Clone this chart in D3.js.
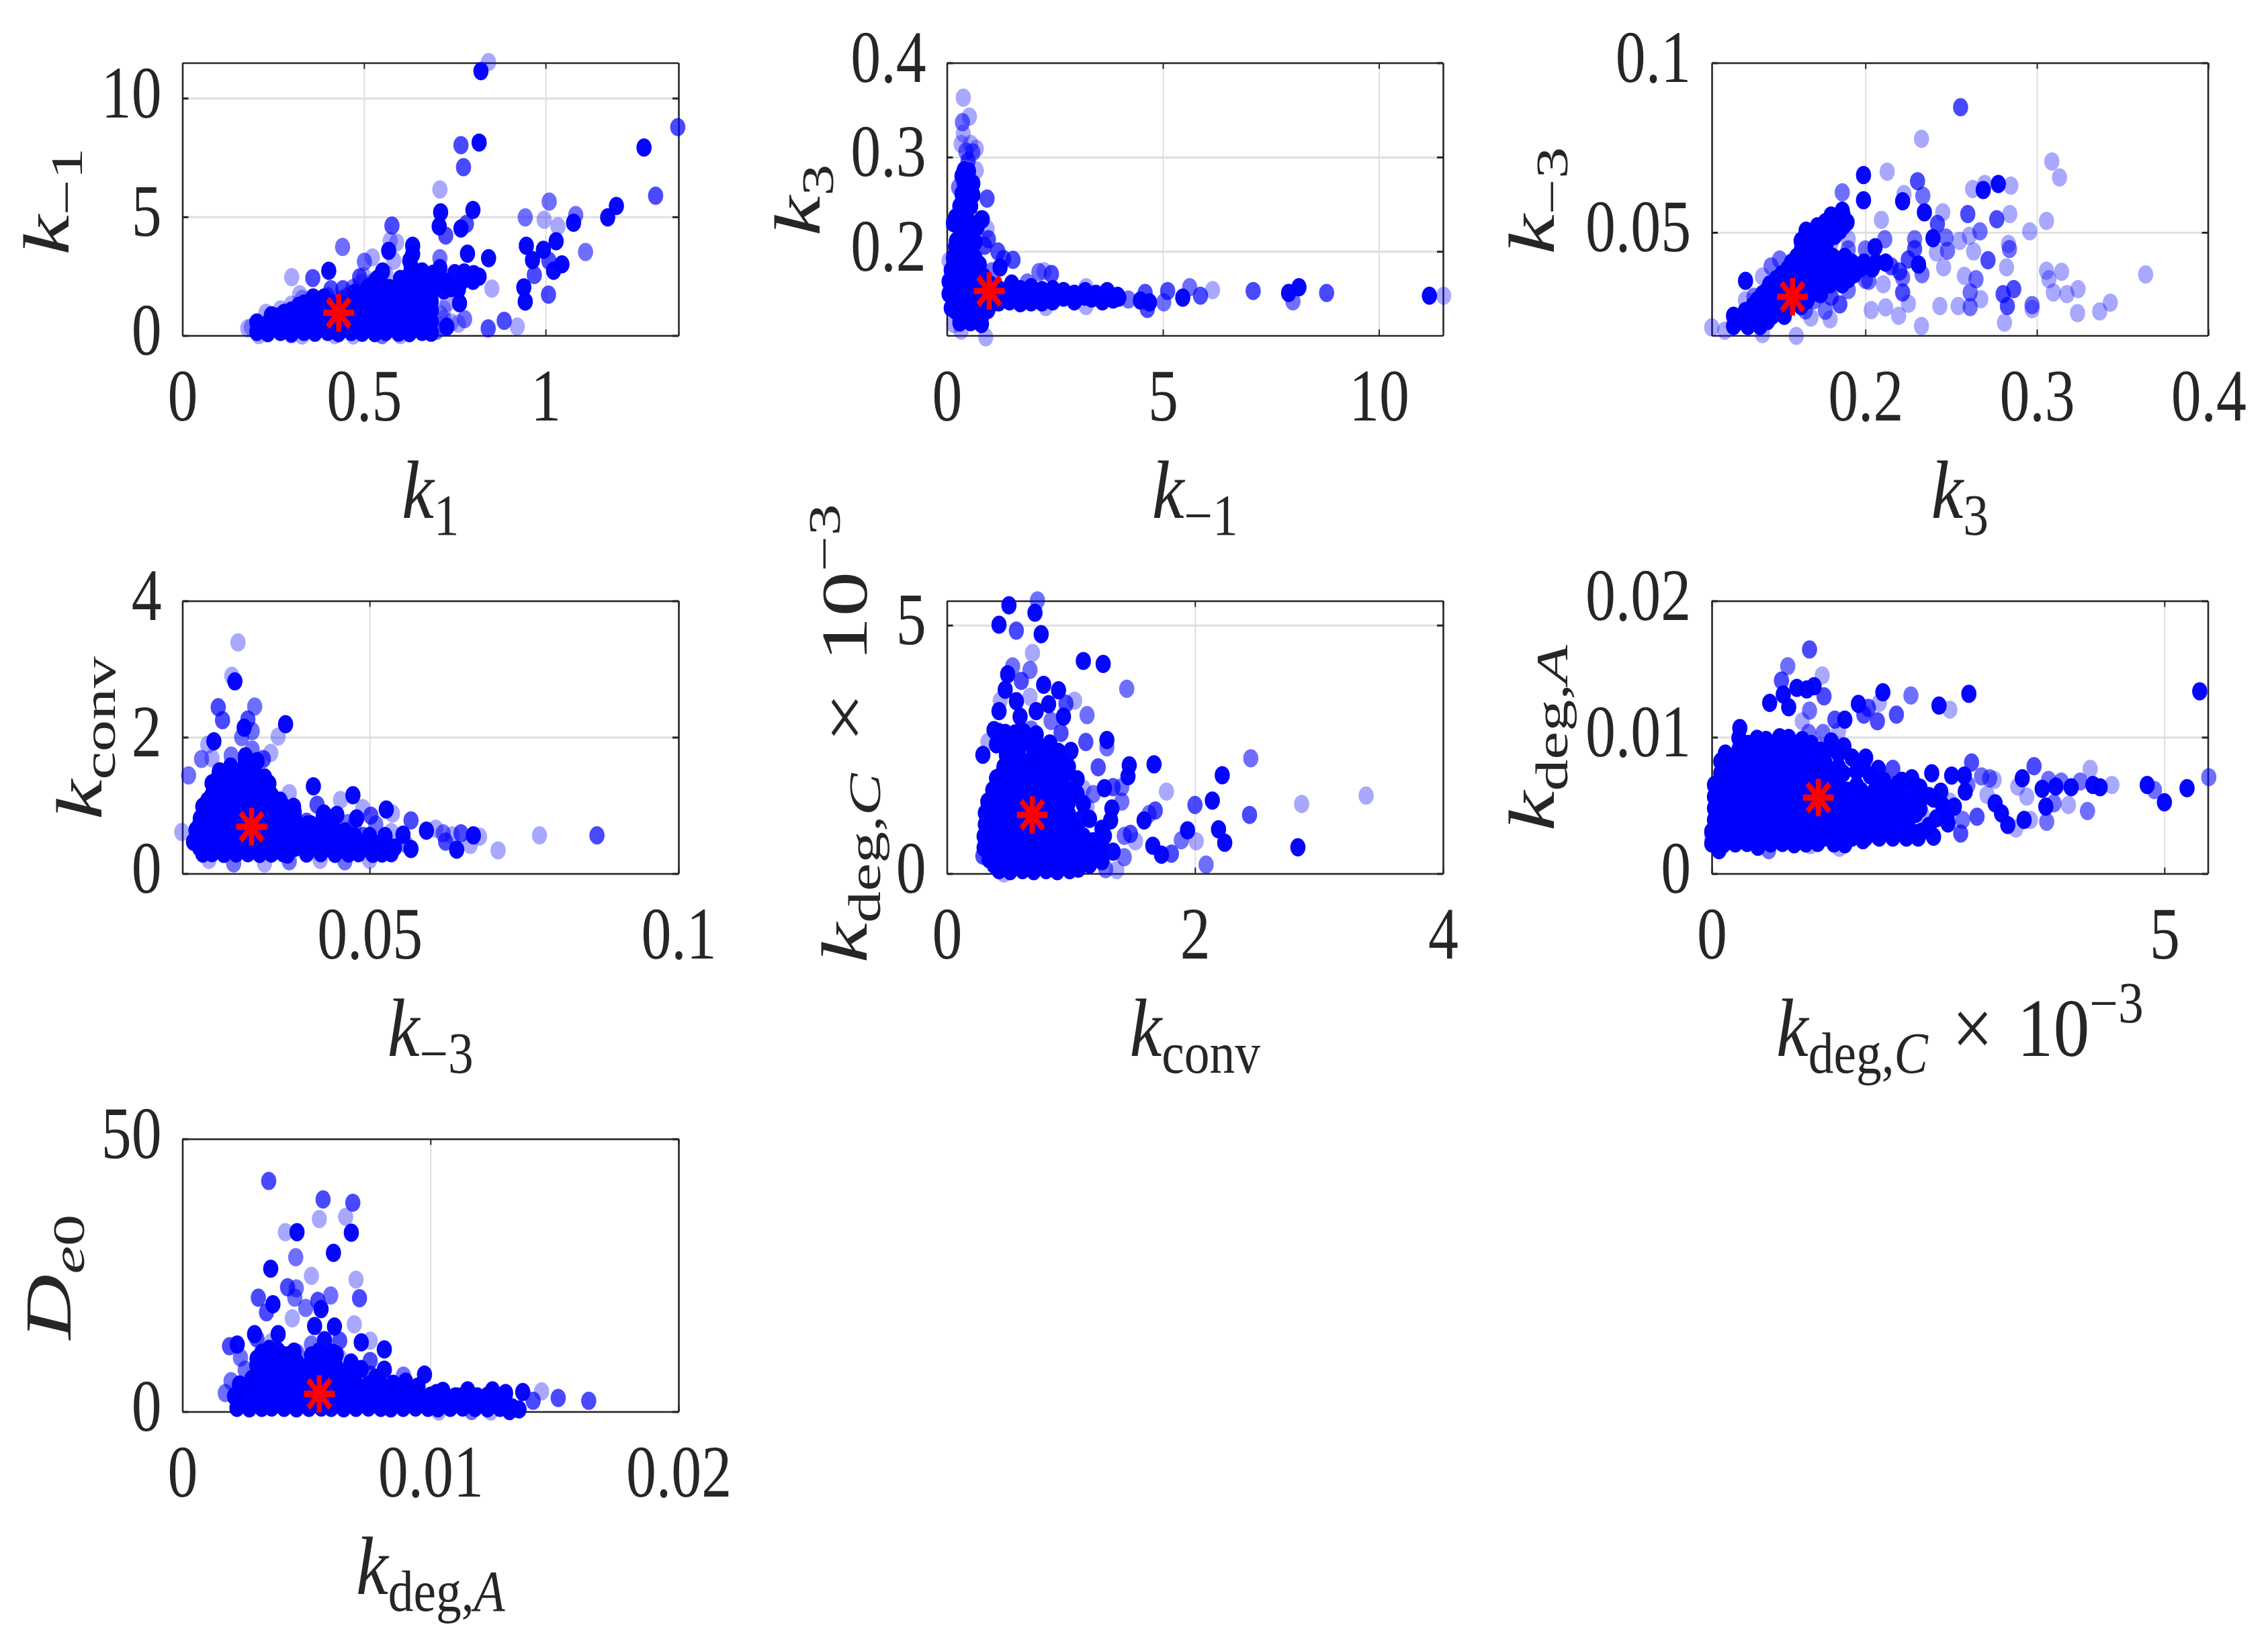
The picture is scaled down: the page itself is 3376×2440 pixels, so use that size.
<!DOCTYPE html>
<html>
<head>
<meta charset="utf-8">
<script src="https://cdn.jsdelivr.net/npm/d3@7"></script>
<style>
  html, body { margin: 0; padding: 0; background: #fff; }
  svg { display: block; }
  tspan { white-space: pre; }
</style>
</head>
<body>
<svg id="fig" width="3376" height="2440"></svg>
<script>
// Posterior samples per parameter pair. Each scatter row is [x, y, repeats];
// chains revisit a state several times, which darkens its dot.
// Core rows are the heavily revisited states: [x, y].

const p1Scatter = [[.843,11.52,1],[.822,11.14,9],[1.364,8.78,3],[1.271,7.92,9],[.817,8.13,9],[.767,8.02,3],[.774,7.09,3],[.709,6.15,1],[1.303,5.89,3],[1.010,5.64,2],[1.195,5.46,9],[1.171,4.98,9],[1.083,5.08,2],[.944,4.98,2],[.996,4.88,1],[1.077,4.75,9],[1.034,4.60,1],[.800,5.29,9],[.711,5.19,9],[.707,4.60,9],[.782,4.70,3],[.767,4.51,9],[.725,4.21,3],[.577,4.63,3],[.572,3.99,1],[.590,3.92,1],[.568,3.57,9],[.634,3.78,9],[.634,3.43,9],[.441,3.73,2],[.947,3.78,9],[1.029,3.97,9],[.994,3.61,9],[1.110,3.52,2],[.843,3.26,9],[.785,3.45,9],[.709,3.26,2],[.964,3.18,9],[1.009,3.15,3],[1.045,3.00,9],[1.022,2.73,9],[.969,2.55,3],[.501,3.11,2],[.523,3.29,1],[.582,3.15,1],[.626,3.15,9],[.551,2.70,9],[.403,2.73,9],[.359,2.42,3],[.301,2.46,1],[.709,2.84,9],[.75,2.63,9],[.776,2.66,9],[.802,2.59,9],[.817,2.48,9],[.852,1.98,1],[.940,2.03,9],[.944,1.43,9],[1.008,1.72,3],[.763,1.36,9],[.777,.69,2],[.728,.37,9],[.842,.30,3],[.886,.62,3],[.922,.38,1],[.488,2.45,3],[.536,2.38,9],[.60,2.38,9],[.665,2.52,9],[.409,1.95,3],[.442,1.95,3],[.323,1.74,1],[.72,1.9,9],[.74,2.1,3],[.73,1.4,1],[.19,.35,1],[.21,.02,1],[.30,.05,2],[.42,.02,1],[.60,.02,1],
[.33,1.55,1],[.36,1.45,1],[.40,1.65,2],[.44,1.55,2],[.455,1.65,2],[.47,2.0,2],[.49,2.2,1],[.5,2.5,1],[.525,2.25,2],[.56,2.6,1],[.62,2.0,2],[.71,.9,1],[.72,1.1,1],[.71,.4,1],[.74,.55,1],[.76,.5,1],[.70,.2,2],[.18,.3,1],[.23,.95,1],[.27,1.1,1],[.3,1.3,1],[.47,.0,1],[.55,.02,2],[.33,.0,1],[.72,.7,1]];
const p1Core = [[.205,.15],[.235,.1],[.27,.15],[.30,.1],[.335,.15],[.365,.12],[.40,.15],[.43,.1],[.465,.15],[.495,.12],[.53,.1],[.56,.15],[.595,.12],[.625,.1],[.66,.15],[.685,.12],
[.205,.55],[.24,.6],[.27,.6],[.305,.55],[.335,.6],[.37,.6],[.40,.55],[.435,.6],[.465,.6],[.50,.55],[.53,.6],[.565,.6],[.595,.55],[.63,.6],[.66,.55],[.685,.6],
[.245,.85],[.28,.95],[.30,1.05],[.33,1.1],[.365,1.05],[.395,1.1],[.43,1.05],[.46,1.1],[.495,1.05],[.525,1.1],[.56,1.05],[.59,1.1],[.625,1.05],[.655,1.1],[.685,1.05],
[.335,1.35],[.37,1.4],[.405,1.4],[.47,1.45],[.50,1.45],[.535,1.4],[.565,1.45],[.60,1.4],[.63,1.45],[.66,1.4],[.685,1.45],
[.475,1.8],[.505,1.85],[.535,1.8],[.565,1.75],[.60,1.8],[.63,1.85],[.66,1.8],[.685,1.75],
[.525,2.15],[.55,2.1],[.59,1.95],[.64,2.1],[.665,2.2],[.685,2.3]];
const p1Fill = [[.22,.35],[.25,.35],[.285,.35],[.32,.35],[.35,.35],[.385,.35],[.415,.35],[.45,.35],[.48,.35],[.515,.35],[.545,.35],[.58,.35],[.61,.35],[.645,.35],[.675,.35],
[.26,.8],[.29,.8],[.32,.8],[.35,.8],[.385,.8],[.415,.8],[.45,.8],[.48,.8],[.515,.8],[.545,.8],[.58,.8],[.61,.8],[.645,.8],[.675,.8],
[.32,1.25],[.35,1.25],[.385,1.25],[.415,1.25],[.48,1.25],[.515,1.25],[.545,1.25],[.58,1.25],[.61,1.25],[.645,1.25],[.675,1.25],
[.36,1.6],[.39,1.6],[.485,1.6],[.52,1.6],[.55,1.6],[.58,1.6],[.615,1.6],[.645,1.6],[.675,1.6],
[.51,2.0],[.545,2.0],[.655,2.0],[.675,2.0],[.675,2.45],[.65,2.45],
[.72,2.3],[.74,2.0],[.76,1.95],[.77,2.3],[.8,2.3],[.66,2.7],[.69,2.6],[.63,2.9],[.62,2.45],
[.69,1.9],[.7,2.2],[.6,2.2],[.62,2.2],[.57,2.0],[.5,1.5],[.445,1.3]];
const p1Star = [.4303, .955];

const p2Scatter = [[.38,.363,1],[.52,.343,1],[.36,.337,2],[.38,.325,1],[.33,.314,1],[.55,.314,1],[.68,.309,1],[.44,.306,2],[.6,.305,2],[.49,.296,3],[.68,.286,1],[.93,.256,3],[.27,.268,2],[.82,.234,9],[.93,.224,1],[.96,.213,3],[.87,.206,3],[1.18,.2,3],[1.31,.192,3],[1.53,.191,3],[1.23,.183,9],[1.04,.179,2],[2.13,.178,2],[2.25,.179,1],[2.42,.176,3],[1.86,.167,2],[3.22,.162,1],[4.59,.156,3],[5.11,.158,3],[5.62,.162,2],[5.46,.151,9],[5.87,.153,3],[6.15,.159,1],[7.09,.158,3],[7.91,.156,9],[8.15,.162,9],[8.01,.147,2],[8.79,.156,3],[11.17,.153,9],[11.5,.153,1],[.9,.109,1],[.33,.116,1],[.16,.123,1],[.05,.19,1],[4.48,.148,9],[4.69,.146,9],[5.02,.146,2],[4.2,.149,2],[3.98,.151,9],[3.71,.158,9],[3.22,.142,1],[4.64,.139,3],[2.29,.141,1]];
const p2Core = [[.3,.1246],[.55,.125],[.8,.123],[.2,.137],[.45,.137],[.7,.136],[.95,.138],[.15,.149],[.4,.149],[.65,.15],[.9,.148],[.12,.162],[.35,.162],[.6,.161],[.85,.163],[.15,.174],[.4,.174],[.65,.175],[.85,.173],[.25,.187],[.5,.187],[.75,.186],[.3,.199],[.55,.2],[.22,.211],[.5,.211],[.3,.224],[.6,.224],[.7,.226],[.2,.236],[.45,.236],[.8,.234],[.3,.248],[.55,.248],[.35,.261],[.6,.26],[.4,.273],[.6,.272],[.4,.286],[.5,.285],
[1.2,.146],[1.45,.147],[1.7,.145],[1.95,.146],[2.2,.146],[2.45,.147],[1.2,.16],[1.45,.161],[1.7,.16],[1.95,.162],[2.2,.159],[2.45,.16],[2.7,.151],[2.95,.155],[3.2,.152],[3.45,.155],[3.7,.152],[3.95,.153],[2.7,.158],[2.95,.147],[3.2,.158],[1.0,.153]];
const p2Fill = [[.1,.14],[.35,.13],[.55,.13],[.8,.13],[.05,.155],[.25,.155],[.5,.155],[.75,.155],[1.0,.165],[.05,.168],[.25,.168],[.5,.168],[.75,.168],[1.05,.145],[.1,.18],[.3,.18],[.55,.18],[.15,.193],[.4,.193],[.65,.193],[.2,.205],[.4,.205],[.65,.21],[.4,.218],[.15,.23],[.35,.23],[.55,.23],[.3,.242],[.45,.255],[.5,.268],[.45,.28],[.35,.28],
[1.1,.153],[1.3,.153],[1.6,.153],[1.85,.153],[2.1,.153],[2.3,.153],[2.55,.153],[3.0,.15],[3.35,.15],[3.6,.147],[3.85,.149],[1.5,.166]];
const p2Star = [.98, .158];

const p3Scatter = [[.2555,.0869,3],[.2327,.0776,1],[.3087,.0709,1],[.3132,.0662,1],[.1989,.0669,9],[.2127,.0679,1],[.2304,.0651,3],[.2775,.0643,9],[.2848,.0638,1],[.2687,.0625,9],[.2625,.0628,1],[.2696,.0643,1],[.1865,.0618,2],[.1989,.0595,9],[.2217,.0592,9],[.2225,.0613,1],[.2335,.0608,2],[.2344,.0559,9],[.2451,.0559,1],[.2597,.0554,3],[.2766,.0539,3],[.2842,.0554,1],[.2093,.0537,1],[.3056,.0534,1],[.2958,.0503,1],[.242,.0525,3],[.2668,.0503,2],[.2606,.049,1],[.247,.0485,2],[.2394,.0483,9],[.2287,.048,2],[.2113,.048,2],[.2549,.0475,1],[.2834,.0466,1],[.284,.0451,2],[.2631,.0444,1],[.2056,.0456,9],[.2287,.0451,3],[.2414,.0441,1],[.2479,.0446,2],[.2715,.0418,3],[.2823,.0397,1],[.231,.0405,9],[.2456,.0397,1],[.2577,.0372,1],[.2645,.0362,2],[.3056,.0387,1],[.3144,.0384,1],[.307,.0362,1],[.3634,.0376,1],[.2217,.0367,2],[.2104,.0347,1],[.233,.0377,2],[.3096,.0323,1],[.3175,.0318,1],[.324,.0333,1],[.3428,.0293,1],[.3366,.0267,1],[.3237,.0262,1],[.2865,.0333,3],[.2803,.0318,3],[.2828,.0283,3],[.2972,.0286,2],[.2972,.0274,1],[.2611,.0323,2],[.2673,.0303,1],[.2434,.0283,1],[.2541,.0283,1],[.2611,.028,2],[.2811,.0234,1],[.2327,.0224,1],[.2194,.0254,1],[.2251,.029,1],[.2217,.0323,3],[.2034,.0271,1],[.2118,.0279,1],[.1301,.0357,9],[.1597,.0195,1],[.1104,.022,1],[.118,.021,1],[.1851,.0288,3],[.1766,.0269,2],[.1682,.0249,1],[.14,.02,1],[.1794,.0244,1],[.202,.0357,2],
[.145,.04,2],[.14,.037,1],[.135,.031,2],[.13,.03,1],[.15,.042,2],[.17,.03,2],[.18,.031,3],[.165,.027,2],[.19,.033,2],[.195,.04,3],[.2,.036,2],[.215,.04,3],[.22,.0385,3],[.225,.042,3],[.19,.045,2],[.2,.045,2],[.18,.047,1],[.19,.048,1]];
const p3Core = [[.1231,.0224],[.1315,.0224],[.1386,.0224],[.1231,.0254],[.1315,.0254],[.1386,.0254],[.1456,.0254],[.1527,.0254],[.1344,.0283],[.1414,.0283],[.1485,.0283],[.1555,.0283],[.1625,.0283],[.14,.0318],[.147,.0318],[.1541,.0318],[.1611,.0318],[.1682,.0318],[.1738,.0318],[.1442,.0347],[.1513,.0347],[.1583,.0347],[.1654,.0347],[.1724,.0347],[.1794,.0347],[.1865,.0347],[.1513,.0377],[.1583,.0377],[.1654,.0377],[.1724,.0377],[.1794,.0377],[.1865,.0377],[.1935,.0377],[.1569,.0411],[.1639,.0411],[.171,.0411],[.178,.0411],[.1851,.0411],[.1921,.0411],[.1992,.0411],[.2062,.0411],[.2118,.0411],[.1625,.0446],[.1696,.0446],[.1766,.0446],[.1625,.0475],[.1696,.0475],[.1766,.0475],[.1654,.0505],[.1724,.0505],[.1794,.0505],[.1851,.0505],[.1766,.053],[.1851,.053],[.1893,.053],[.1865,.0564]];
const p3Fill = [[.127,.0239],[.135,.0239],[.143,.0239],[.13,.0268],[.138,.0268],[.145,.0268],[.152,.0268],[.137,.03],[.144,.03],[.152,.03],[.159,.03],[.166,.03],[.143,.0332],[.15,.0332],[.157,.0332],[.164,.0332],[.171,.0332],[.148,.0362],[.155,.0362],[.162,.0362],[.169,.0362],[.176,.0362],[.183,.0362],[.19,.0362],[.155,.0394],[.162,.0394],[.169,.0394],[.176,.0394],[.183,.0394],[.19,.0394],[.197,.0394],[.204,.0394],[.16,.0428],[.167,.0428],[.174,.0428],[.181,.0428],[.188,.0428],[.163,.046],[.17,.046],[.177,.046],[.168,.049],[.175,.049],[.182,.049],[.172,.0518],[.179,.0518],[.187,.0518],[.18,.055],[.187,.055]];
const p3Star = [.1575, .031];

const p4Scatter = [[.0287,3.39,1],[.0282,2.82,9],[.0277,2.90,1],[.0255,2.44,3],[.0314,2.45,2],[.0262,2.25,3],[.0364,2.19,9],[.0303,2.26,3],[.0297,2.14,9],[.031,2.09,2],[.0293,2.0,2],[.0352,2.01,1],[.0248,1.94,9],[.0238,1.89,1],[.031,1.82,2],[.034,1.77,1],[.0228,1.68,2],[.0276,1.73,2],[.0299,1.72,9],[.0245,1.69,1],[.0328,1.68,3],[.0207,1.44,2],[.0257,1.50,9],[.0409,1.28,9],[.037,1.18,1],[.0473,1.15,9],[.0453,1.08,1],[.0415,1.01,3],[.0527,.94,9],[.0537,.88,1],[.0489,.96,1],[.0377,.98,9],[.0447,.86,9],[.0426,.88,9],[.0479,.81,9],[.0502,.85,3],[.0465,.74,2],[.0567,.78,3],[.0398,.76,3],[.0592,.63,9],[.0607,.66,1],[.0554,.57,9],[.0619,.59,2],[.0648,.59,3],[.0668,.56,9],[.0678,.54,1],[.0634,.56,1],[.0775,.56,1],[.0868,.56,3],[.0641,.35,9],[.0663,.42,1],[.0708,.34,1],[.0567,.36,9],[.0535,.61,1],[.0196,.61,1],[.0623,.47,3],[.0558,.44,2],
[.024,.2,1],[.028,.15,2],[.033,.15,1],[.037,.18,2],[.042,.2,1],[.046,.18,2],[.05,.2,1],[.0445,.6,3],[.0475,.7,2],[.049,.55,3],[.051,.72,2]];
const p4Core = [[.023,.294],[.0245,.3],[.0264,.29],[.0284,.294],[.0303,.3],[.0322,.29],[.0341,.294],[.036,.3],[.0367,.28],[.0398,.294],[.0421,.3],[.0444,.29],[.0466,.294],[.0482,.3],[.0505,.29],[.052,.294],[.0535,.3],
[.0215,.466],[.0234,.47],[.0253,.46],[.0272,.466],[.0291,.47],[.031,.46],[.0329,.466],[.0348,.47],[.0367,.46],[.0375,.47],[.039,.466],[.0413,.47],[.0436,.46],[.0459,.466],[.0482,.47],[.0505,.46],[.052,.466],
[.0219,.638],[.0238,.64],[.0257,.63],[.0276,.638],[.0295,.64],[.0314,.63],[.0333,.638],[.0352,.64],[.0371,.63],[.0375,.64],[.0394,.638],[.0413,.64],[.0436,.63],
[.0226,.81],[.0245,.82],[.0264,.8],[.0283,.81],[.0302,.82],[.0321,.8],[.034,.81],[.0359,.82],[.0379,.8],
[.023,.982],[.0249,.99],[.0268,.97],[.0287,.982],[.0306,.99],[.0325,.97],[.0344,.982],[.036,.99],
[.0245,1.153],[.0264,1.16],[.0284,1.15],[.0303,1.153],[.0325,1.16],[.0341,1.15],
[.0245,1.325],[.0264,1.33],[.0284,1.32],[.0303,1.325],[.0325,1.33],[.0337,1.32],
[.0257,1.497],[.0284,1.5],[.0314,1.49],[.0299,1.644],[.0318,1.65]];
const p4Fill = [[.0225,.38],[.024,.38],[.026,.38],[.028,.38],[.03,.38],[.032,.38],[.034,.38],[.036,.38],[.038,.38],[.0405,.38],[.043,.38],[.045,.38],[.047,.38],[.049,.38],
[.0225,.55],[.0245,.55],[.0265,.55],[.0285,.55],[.0305,.55],[.0325,.55],[.0345,.55],[.0365,.55],[.0395,.55],[.0425,.55],[.045,.55],[.0475,.55],[.05,.55],[.0525,.55],
[.0225,.72],[.0245,.72],[.0265,.72],[.0285,.72],[.0305,.72],[.0325,.72],[.0345,.72],[.0365,.72],[.038,.72],[.04,.72],[.0425,.72],[.044,.72],
[.0238,.9],[.0258,.9],[.0278,.9],[.0298,.9],[.0318,.9],[.0338,.9],[.0358,.9],[.0378,.9],
[.0238,1.07],[.0258,1.07],[.0278,1.07],[.0298,1.07],[.0318,1.07],[.0338,1.07],[.0355,1.07],
[.0255,1.24],[.0275,1.24],[.0295,1.24],[.0315,1.24],[.0335,1.24],
[.0255,1.41],[.0275,1.41],[.0295,1.41],[.0315,1.41],[.033,1.41],[.0275,1.57],[.0305,1.57],
[.0405,.72],[.0425,.85],[.046,.62],[.05,.45],[.054,.38]];
const p4Star = [.0309, .687];

const p5Scatter = [[.73,5.50,2],[.5,5.40,9],[.71,5.25,9],[.42,5.01,9],[.56,4.89,3],[.76,4.82,9],[.69,4.44,1],[1.10,4.28,9],[1.26,4.22,9],[.53,4.17,2],[.67,4.10,2],[.49,4.01,9],[.6,3.88,3],[.78,3.80,9],[1.45,3.72,2],[.47,3.70,9],[.9,3.69,9],[.67,3.56,1],[.56,3.47,9],[1.03,3.48,1],[.96,3.42,3],[.82,3.41,9],[.43,3.48,1],[.42,3.27,9],[.72,3.27,9],[1.13,3.19,2],[.59,3.16,9],[.94,3.16,9],[.84,3.07,2],[.38,2.89,9],[.92,2.83,3],[.68,2.90,2],[.33,2.65,1],[1.29,2.69,9],[1.29,2.54,2],[1.12,2.65,3],[.29,2.39,9],[.84,2.54,9],[1.0,2.47,9],[2.45,2.32,2],[1.67,2.20,9],[1.47,2.18,9],[1.22,2.14,3],[2.22,1.98,9],[1.46,1.96,9],[1.77,1.65,1],[1.27,1.72,9],[1.34,1.74,3],[1.41,1.74,2],[1.1,1.71,1],[1.18,1.60,2],[3.38,1.57,1],[2.86,1.40,1],[1.41,1.45,2],[2.14,1.47,9],[2.0,1.38,3],[1.33,1.31,9],[1.13,1.34,1],[1.68,1.27,3],[1.63,1.20,2],[1.59,1.07,9],[2.44,1.18,3],[1.32,1.07,9],[1.08,1.09,9],[1.94,.87,9],[2.19,.89,9],[1.48,.8,3],[1.43,.76,2],[1.27,.76,9],[1.52,.65,1],[1.89,.67,2],[2.01,.65,1],[2.24,.62,9],[1.66,.56,9],[2.83,.53,9],[1.81,.40,3],[1.73,.38,9],[1.34,.44,9],[1.43,.33,2],[2.09,.18,2],[1.28,.09,2],[1.37,.07,1],[1.18,.65,9],[.46,.0,1],[.29,.36,3]];
const p5Core = [[.42,.07],[.51,.05],[.61,.07],[.70,.05],[.80,.07],[.89,.05],[.99,.07],[1.06,.1],
[.34,.29],[.44,.27],[.53,.29],[.63,.3],[.72,.27],[.82,.29],[.91,.3],[1.0,.27],[1.1,.29],[1.19,.3],
[.3,.52],[.4,.5],[.49,.52],[.59,.53],[.68,.5],[.78,.52],[.87,.53],[.97,.5],[1.07,.52],[1.17,.53],
[.3,.75],[.4,.74],[.49,.75],[.59,.76],[.68,.74],[.78,.75],[.87,.76],[.97,.74],[1.1,.75],
[.31,.99],[.4,.97],[.5,.99],[.6,1.0],[.7,.97],[.8,.99],[.9,1.0],[1.0,.97],
[.31,1.22],[.4,1.2],[.5,1.22],[.6,1.23],[.7,1.2],[.8,1.22],[.9,1.23],[.98,1.2],
[.33,1.45],[.43,1.43],[.53,1.45],[.63,1.46],[.73,1.43],[.83,1.45],[.93,1.46],[.98,1.43],
[.37,1.68],[.47,1.67],[.57,1.68],[.67,1.69],[.77,1.67],[.87,1.68],[.96,1.69],
[.4,1.92],[.5,1.9],[.6,1.92],[.7,1.93],[.8,1.9],[.93,1.92],
[.46,2.15],[.55,2.13],[.65,2.15],[.78,2.16],[.87,2.13],[.98,2.15],
[.48,2.38],[.58,2.36],[.8,2.38],[.85,2.39],[.48,2.61],[.59,2.6],[.68,2.61],[.83,2.62],[.47,2.83],[.55,2.82],[.62,2.84]];
const p5Fill = [[.38,.18],[.47,.18],[.56,.18],[.66,.18],[.75,.18],[.85,.18],[.94,.18],[1.05,.18],[1.15,.18],
[.35,.4],[.44,.4],[.54,.4],[.63,.4],[.73,.4],[.82,.4],[.92,.4],[1.02,.4],[1.12,.4],
[.35,.63],[.44,.63],[.54,.63],[.63,.63],[.73,.63],[.82,.63],[.92,.63],[1.02,.63],[1.12,.63],
[.35,.87],[.44,.87],[.55,.87],[.65,.87],[.75,.87],[.85,.87],[.95,.87],[1.05,.87],
[.35,1.1],[.45,1.1],[.55,1.1],[.65,1.1],[.75,1.1],[.85,1.1],[.95,1.1],
[.36,1.33],[.46,1.33],[.56,1.33],[.66,1.33],[.76,1.33],[.86,1.33],[.96,1.33],
[.4,1.56],[.5,1.56],[.6,1.56],[.7,1.56],[.8,1.56],[.9,1.56],
[.43,1.8],[.53,1.8],[.63,1.8],[.73,1.8],[.83,1.8],[.93,1.8],
[.45,2.03],[.55,2.03],[.65,2.03],[.75,2.03],[.85,2.03],[.95,2.03],
[.5,2.27],[.6,2.27],[.72,2.27],[.82,2.27],[.92,2.27],[.5,2.5],[.58,2.5],[.85,2.5],[.5,2.72],[.58,2.72],
[.4,2.6],[.42,2.85],[.7,2.4],[.75,2.55],[.72,2.8],[.9,2.45],[1.05,1.9],[1.05,1.6],[1.1,1.4],[1.15,1.1],[1.25,.9],[1.15,.4],[1.25,.55],[1.25,.25]];
const p5Star = [.688, 1.183];

const p6Scatter = [[1.08,.01644,3],[.84,.01521,2],[1.22,.01453,1],[.77,.01416,3],[.94,.01362,9],[1.13,.01374,9],[1.05,.0135,9],[1.24,.013,3],[.79,.01313,9],[1.89,.0133,9],[2.2,.01306,2],[2.84,.01318,9],[5.39,.01337,9],[.64,.01252,9],[.85,.0122,9],[1.85,.01252,1],[1.62,.01244,9],[1.73,.01215,3],[1.68,.01166,3],[2.51,.01232,9],[2.63,.01202,1],[2.04,.01166,3],[1.83,.01117,3],[1.08,.01195,2],[1.47,.01129,9],[1.36,.01129,3],[1.0,.01117,1],[1.07,.01031,2],[1.23,.01031,2],[.31,.01067,9],[1.4,.01043,1],[1.32,.00969,9],[1.46,.00933,9],[1.68,.00822,9],[2.0,.00768,3],[1.84,.00768,9],[2.21,.00699,9],[2.43,.00736,9],[2.65,.00719,9],[2.79,.00719,9],[2.87,.00815,3],[2.98,.00712,2],[3.07,.00699,2],[3.12,.00687,1],[3.43,.00699,9],[3.56,.00788,3],[4.18,.00768,1],[3.72,.00687,2],[3.86,.00675,2],[3.8,.00638,9],[3.65,.00621,9],[3.97,.00633,9],[4.07,.00675,2],[4.21,.0065,9],[4.29,.00633,9],[4.42,.0065,1],[4.81,.0065,9],[4.89,.00613,2],[5.0,.00523,9],[5.25,.00626,9],[5.49,.00707,2],[3.94,.00503,1],[4.15,.00459,2],[3.69,.00491,9],[3.78,.00515,2],[3.7,.0038,2],[3.38,.00638,1],[3.48,.00564,1],[3.45,.00393,9],[3.52,.00393,1],[3.36,.00331,1],[3.27,.00356,9],[3.2,.00442,9],[3.13,.00515,9],[3.04,.00577,1],[2.8,.00601,9],[2.83,.0065,2],[2.53,.00601,9],[2.93,.00417,3],[2.77,.00393,2],[2.61,.00368,9],[2.48,.00405,9],[2.68,.00491,9],[2.75,.00294,3],[2.45,.0027,9],[2.32,.00307,9],[2.32,.00442,1],[2.63,.00528,1],[1.67,.00245,9],[1.84,.0027,3],[2.05,.00307,3],[1.49,.00245,9],[1.41,.00189,1],[1.09,.00209,1],[.63,.00172,2],[.08,.00172,9],[.0,.0027,1],[.51,.00196,9]];
const p6Core = [[.0,.00221],[.13,.00215],[.26,.00221],[.39,.00225],[.52,.00215],[.65,.00221],[.78,.00225],[.91,.00215],[1.04,.00221],[1.17,.00225],[1.35,.00221],[1.47,.00215],
[.0,.00307],[.13,.00312],[.26,.00302],[.39,.00307],[.52,.00312],[.65,.00302],[.78,.00307],[.91,.00312],[1.04,.00302],[1.17,.00307],[1.3,.00312],[1.43,.00302],[1.56,.00307],[1.75,.00312],[1.9,.00302],[2.0,.00307],[2.2,.00312],[2.3,.00302],
[.03,.00393],[.16,.00388],[.29,.00398],[.42,.00393],[.55,.00388],[.68,.00398],[.81,.00393],[.94,.00388],[1.07,.00398],[1.2,.00393],[1.33,.00388],[1.46,.00398],[1.6,.00393],[1.8,.00388],[1.95,.00398],[2.1,.00393],
[.03,.00479],[.16,.00484],[.29,.00474],[.42,.00479],[.55,.00484],[.68,.00474],[.81,.00479],[.94,.00484],[1.07,.00474],[1.2,.00479],[1.33,.00484],[1.46,.00474],[1.6,.00479],[1.7,.00484],[1.85,.00474],[2.0,.00479],[2.15,.00484],[2.3,.00474],
[.03,.00564],[.16,.00559],[.29,.00569],[.42,.00564],[.55,.00559],[.68,.00569],[.81,.00564],[.94,.00559],[1.07,.00569],[1.2,.00564],[1.33,.00559],[1.46,.00569],[1.65,.00564],[1.8,.00559],[1.95,.00569],[2.1,.00564],[2.25,.00559],[2.4,.00569],
[.03,.0065],[.16,.00655],[.29,.00645],[.42,.0065],[.55,.00655],[.68,.00645],[.81,.0065],[.94,.00655],[1.07,.00645],[1.2,.0065],[1.4,.00655],[1.6,.00645],[1.85,.0065],[2.05,.00655],[2.25,.00645],
[.1,.00736],[.25,.0073],[.4,.00741],[.55,.00736],[.7,.0073],[.85,.00741],[1.0,.00736],[1.15,.0073],[1.3,.00741],[1.45,.00736],
[.1,.00822],[.25,.00816],[.4,.00828],[.6,.00822],[.75,.00816],[.9,.00828],[1.1,.00822],[1.25,.00816],
[.3,.00908],[.55,.00902],[.7,.00914],[.95,.00908],[1.2,.00902],[.3,.00994],[.5,.00988],[.75,.01],[.85,.00994]];
const p6Fill = [[.07,.00264],[.2,.00264],[.33,.00264],[.46,.00264],[.59,.00264],[.72,.00264],[.85,.00264],[.98,.00264],[1.11,.00264],[1.24,.00264],[1.41,.00264],[1.55,.00264],[1.7,.00264],[1.85,.00264],[2.0,.00264],[2.15,.00264],[2.28,.00264],
[.07,.0035],[.2,.0035],[.33,.0035],[.46,.0035],[.59,.0035],[.72,.0035],[.85,.0035],[.98,.0035],[1.11,.0035],[1.24,.0035],[1.37,.0035],[1.5,.0035],[1.7,.0035],[1.85,.0035],[2.0,.0035],[2.15,.0035],
[.07,.00436],[.2,.00436],[.33,.00436],[.46,.00436],[.59,.00436],[.72,.00436],[.85,.00436],[.98,.00436],[1.11,.00436],[1.24,.00436],[1.37,.00436],[1.5,.00436],[1.65,.00436],[1.8,.00436],[1.95,.00436],[2.1,.00436],[2.25,.00436],
[.07,.0052],[.2,.0052],[.33,.0052],[.46,.0052],[.59,.0052],[.72,.0052],[.85,.0052],[.98,.0052],[1.11,.0052],[1.24,.0052],[1.37,.0052],[1.5,.0052],[1.65,.0052],[1.8,.0052],[1.95,.0052],[2.1,.0052],[2.25,.0052],
[.07,.00607],[.2,.00607],[.33,.00607],[.46,.00607],[.59,.00607],[.72,.00607],[.85,.00607],[.98,.00607],[1.11,.00607],[1.24,.00607],[1.37,.00607],[1.5,.00607],[1.65,.00607],[1.8,.00607],[1.95,.00607],[2.1,.00607],
[.1,.00693],[.23,.00693],[.36,.00693],[.49,.00693],[.62,.00693],[.75,.00693],[.88,.00693],[1.01,.00693],[1.14,.00693],[1.27,.00693],[1.4,.00693],
[.17,.0078],[.33,.0078],[.47,.0078],[.62,.0078],[.78,.0078],[.93,.0078],[1.08,.0078],[1.22,.0078],[1.4,.0078],
[.33,.00865],[.48,.00865],[.65,.00865],[.82,.00865],[1.0,.00865],[1.2,.00865],[.4,.0095],[.62,.0095],[.85,.0095],[1.1,.0095],
[1.6,.0075],[1.75,.0072],[1.55,.0085],[1.4,.0088],[1.9,.0068],[2.1,.0068],[2.3,.0063],[2.45,.0055],[2.55,.005],[2.6,.0042],[2.4,.0035],[1.3,.0092],[.15,.0088],[.6,.0098],[1.0,.0098],[1.7,.0085]];
const p6Star = [1.178, .00557];

const p7Scatter = [[.00348,42.3,3],[.00567,38.9,3],[.00687,38.3,3],[.00552,35.3,1],[.00658,35.7,1],[.00415,32.9,1],[.00462,32.9,9],[.00681,32.8,9],[.00609,29.1,9],[.00457,28.3,2],[.00356,26.2,9],[.0052,24.9,1],[.007,24.2,1],[.00424,22.8,3],[.00459,22.6,2],[.00306,20.9,3],[.00453,20.9,2],[.00365,19.7,9],[.00598,21.3,2],[.00714,20.8,3],[.00546,20.3,3],[.00339,18.2,3],[.00497,19.0,2],[.00559,18.8,9],[.00443,17.1,1],[.00533,15.7,9],[.00693,16.0,1],[.00613,15.6,9],[.00291,14.2,9],[.00386,14.2,9],[.003,13.4,3],[.00358,12.7,1],[.00573,13.1,9],[.00634,13.0,3],[.0052,12.3,2],[.00757,13.0,1],[.00721,12.7,9],[.00221,12.3,9],[.0019,12.0,3],[.00814,11.4,9],[.00605,10.8,9],[.00386,11.1,9],[.00462,10.8,2],[.00234,9.9,2],[.00301,9.7,9],[.00757,9.3,3],[.00634,9.9,1],[.00691,7.7,1],[.00814,7.7,9],[.00891,6.6,2],[.00976,6.8,9],[.00253,7.7,2],[.00757,6.8,3],[.00681,5.9,9],[.00919,4.1,3],[.01024,3.4,9],[.011,2.8,9],[.01189,2.8,9],[.01303,3.4,9],[.01372,3.6,9],[.01448,3.7,1],[.01414,2.0,3],[.01515,2.5,3],[.01638,2.0,3],[.01319,.1,9],[.01357,.4,9],[.01033,.0,1],[.01166,.1,2],[.01243,.0,1],[.00173,3.4,2],[.00196,5.6,2]];
const p7Core = [[.0022,.68],[.0027,.6],[.0032,.68],[.0036,.75],[.0041,.68],[.0046,.6],[.0051,.68],[.0056,.75],[.006,.68],[.0065,.6],[.007,.68],[.0075,.75],[.008,.68],[.0084,.6],[.0089,.68],[.0094,.75],[.0099,.68],[.0103,.6],[.0108,.68],[.0113,.75],[.0118,.68],[.0123,.6],[.0128,.68],[.0133,.75],
[.0021,2.83],[.0026,2.9],[.0031,2.75],[.0035,2.83],[.004,2.9],[.0045,2.75],[.005,2.83],[.0055,2.9],[.006,2.75],[.0064,2.83],[.0069,2.9],[.0074,2.75],[.0079,2.83],[.0084,2.9],[.0089,2.75],[.0095,2.83],[.01,2.9],[.0111,2.75],[.0117,2.83],[.0123,2.9],[.013,2.75],
[.0023,4.98],[.0027,5.1],[.0032,4.9],[.0037,4.98],[.0042,5.1],[.0047,4.9],[.0051,4.98],[.0056,5.1],[.0061,4.9],[.0066,4.98],[.007,5.1],[.0075,4.9],[.008,4.98],[.0085,5.1],
[.0031,7.13],[.0036,7.2],[.0041,7.0],[.0046,7.13],[.005,7.2],[.0055,7.0],[.006,7.13],[.0064,7.2],
[.0036,9.28],[.0041,9.4],[.0046,9.1],[.0056,9.28],[.0059,9.4]];
const p7Fill = [[.0024,1.8],[.0029,1.8],[.0034,1.8],[.0039,1.8],[.0044,1.8],[.0049,1.8],[.0054,1.8],[.0059,1.8],[.0064,1.8],[.0069,1.8],[.0074,1.8],[.0079,1.8],[.0084,1.8],[.0089,1.8],[.0094,1.8],[.0099,1.8],[.0105,1.8],[.011,1.8],[.0115,1.8],[.012,1.8],[.0125,1.8],[.013,1.8],
[.0025,3.9],[.003,3.9],[.0035,3.9],[.004,3.9],[.0045,3.9],[.005,3.9],[.0055,3.9],[.006,3.9],[.0065,3.9],[.007,3.9],[.0075,3.9],[.008,3.9],[.0085,3.9],[.009,3.9],[.0115,3.9],[.0125,3.9],
[.0028,6],[.0034,6],[.0039,6],[.0044,6],[.0048,6],[.0053,6],[.0058,6],[.0062,6],[.0067,6],
[.0034,8.2],[.0039,8.2],[.0044,8.2],[.0048,8.2],[.0053,8.2],[.0058,8.2],[.0062,8.2],
[.0038,10.3],[.0042,10.3],[.0052,10.3],[.0057,10.3],
[.0035,11.5],[.0045,11],[.0055,11],[.0062,10.5],[.0068,9],[.0072,7.8],[.0078,6.2],[.003,8.5],[.0032,10.8],[.0095,4.6],[.0105,3.8],[.009,5.5]];
const p7Star = [.00552, 3.26];

// Axis limits and tick values, one entry per panel
const xDomains = [[0,1.366],[0,11.485],[.1104,.3997],[.0197,.1],[0,4],[0,5.48],[0,.02]];
const yDomains = [[0,11.49],[.1108,.4],[.0196,.1],[0,4],[0,5.49],[0,.02],[0,50]];
const xTicks = [[0,.5,1],[0,5,10],[.2,.3,.4],[.05,.1],[0,2,4],[0,5],[0,.01,.02]];
const yTicks = [[0,5,10],[.2,.3,.4],[.05,.1],[0,2,4],[0,5],[0,.01,.02],[0,50]];

// Axis titles as runs of [text, kind]: i italic, s subscript roman,
// t subscript italic, u superscript, b return to the base line
const kDegC = [["k","i"],["deg,","s"],["C","t"],["\u2004×\u200410","b"],["−3","u"]];
const xLabels = [
  [["k","i"],["1","s"]],
  [["k","i"],["−1","s"]],
  [["k","i"],["3","s"]],
  [["k","i"],["−3","s"]],
  [["k","i"],["conv","s"]],
  kDegC,
  [["k","i"],["deg,","s"],["A","t"]]
];
const yLabels = [
  [["k","i"],["−1","s"]],
  [["k","i"],["3","s"]],
  [["k","i"],["−3","s"]],
  [["k","i"],["conv","s"]],
  kDegC,
  [["k","i"],["deg,","s"],["A","t"]],
  [["D","i"],["e","t"],["0","s"]]
];

const scatters = [p1Scatter,p2Scatter,p3Scatter,p4Scatter,p5Scatter,p6Scatter,p7Scatter];
const cores = [p1Core.concat(p1Fill),p2Core.concat(p2Fill),p3Core.concat(p3Fill),p4Core.concat(p4Fill),p5Core.concat(p5Fill),p6Core.concat(p6Fill),p7Core.concat(p7Fill)];
const stars = [p1Star,p2Star,p3Star,p4Star,p5Star,p6Star,p7Star];

// Figure layout
const INK = "#262626", GRID = "#dfdfdf", BLUE = "#0000ff", RED = "#ff0000";
const STRETCH = 1.25;                 // the figure is taller than it is wide by this factor
const TICK_SIZE = 88, TICK_WIDEN = 1.02;
const LABEL_SIZE = 98, LABEL_WIDEN = 1.1, SUB_RATIO = 0.7;
const AXIS_W = 738.5, AXIS_H = 406;
const DOT_RX = 11.3, DOT_RY = 13.6;
const SERIF = "'Liberation Serif', serif";
const origins = [[271.5,93.5],[1409.5,93.5],[2548,93.5],[271.5,894.5],[1409.5,894.5],[2548,894.5],[271.5,1695.5]];
const yLabelX = [102,1220,2313,151,1290,2313,105];
const yLabelMid = [300,298,299,1099,1092,1099,1901];

const svg = d3.select("#fig");

function fmt(v) { return String(+v.toFixed(4)); }

// Writes a run list into a text element, moving on and off the sub/superscript line
function writeRuns(text, runs) {
  let shift = 0;
  runs.forEach(([str, kind]) => {
    const small = kind === "s" || kind === "t" || kind === "u";
    const target = kind === "u" ? -40 : (kind === "s" || kind === "t") ? 20 : 0;
    text.append("tspan")
      .attr("dy", target - shift)
      .attr("font-size", small ? LABEL_SIZE * SUB_RATIO : LABEL_SIZE)
      .attr("font-style", kind === "i" || kind === "t" ? "italic" : "normal")
      .text(str);
    shift = target;
  });
}

origins.forEach(([left, top], i) => {
  const x = d3.scaleLinear().domain(xDomains[i]).range([0, AXIS_W]);
  const y = d3.scaleLinear().domain(yDomains[i]).range([AXIS_H, 0]);
  const g = svg.append("g").attr("transform", `translate(${left},${top})`);

  // Grid lines, thicker horizontally because of the vertical stretch
  const gridX = g.append("g").attr("transform", `translate(0,${AXIS_H})`)
    .call(d3.axisBottom(x).tickValues(xTicks[i]).tickSize(-AXIS_H).tickFormat(""));
  const gridY = g.append("g")
    .call(d3.axisLeft(y).tickValues(yTicks[i]).tickSize(-AXIS_W).tickFormat(""));
  gridX.select(".domain").remove();
  gridY.select(".domain").remove();
  gridX.selectAll("line").attr("stroke", GRID).attr("stroke-width", 2);
  gridY.selectAll("line").attr("stroke", GRID).attr("stroke-width", 3);

  // Box with inward ticks on all four sides
  const axes = [
    [d3.axisBottom(x).tickValues(xTicks[i]), [0, AXIS_H], "bottom"],
    [d3.axisTop(x).tickValues(xTicks[i]), [0, 0], "top"],
    [d3.axisLeft(y).tickValues(yTicks[i]), [0, 0], "left"],
    [d3.axisRight(y).tickValues(yTicks[i]), [AXIS_W, 0], "right"]
  ];
  axes.forEach(([axis, [ax, ay], side]) => {
    const node = g.append("g")
      .attr("transform", `translate(${ax},${ay})`)
      .call(axis.tickSizeInner(-9).tickSizeOuter(0).tickPadding(0).tickFormat(fmt));
    node.select(".domain").attr("stroke", INK).attr("stroke-width", 2.6);
    node.selectAll(".tick line").attr("stroke", INK).attr("stroke-width", side === "bottom" || side === "top" ? 2 : 3);
    const labels = node.selectAll(".tick text");
    if (side === "bottom") {
      labels.attr("y", 0).attr("dy", 0).attr("text-anchor", "middle")
        .attr("transform", `translate(0,126) scale(${TICK_WIDEN},${STRETCH})`);
    } else if (side === "left") {
      labels.attr("x", 0).attr("dy", 0).attr("text-anchor", "end")
        .attr("transform", `translate(-31,28) scale(${TICK_WIDEN},${STRETCH})`);
    } else {
      labels.remove();
    }
    labels.attr("font-family", SERIF).attr("font-size", TICK_SIZE).attr("fill", INK);
  });

  // Sample dots: each repeat adds another layer of 34% blue
  g.append("g").selectAll("ellipse").data(scatters[i]).join("ellipse")
    .attr("cx", d => x(d[0])).attr("cy", d => y(d[1]))
    .attr("rx", DOT_RX).attr("ry", DOT_RY)
    .attr("fill", BLUE)
    .attr("fill-opacity", d => 1 - Math.pow(0.66, d[2]));
  g.append("g").selectAll("ellipse").data(cores[i]).join("ellipse")
    .attr("cx", d => x(d[0])).attr("cy", d => y(d[1]))
    .attr("rx", DOT_RX).attr("ry", DOT_RY)
    .attr("fill", BLUE);

  // Best-fit marker: an eight-armed asterisk
  g.append("path")
    .attr("d", "M0,-22.3V22.3M-23,0H23M-16.5,-16.5L16.5,16.5M-16.5,16.5L16.5,-16.5")
    .attr("transform", `translate(${x(stars[i][0])},${y(stars[i][1])}) scale(1,${STRETCH})`)
    .attr("fill", "none").attr("stroke", RED).attr("stroke-width", 7.5);

  // Axis titles
  const xt = svg.append("text")
    .attr("transform", `translate(${left + AXIS_W / 2},${top + AXIS_H + 271}) scale(${LABEL_WIDEN},${STRETCH})`)
    .attr("text-anchor", "middle").attr("font-family", SERIF).attr("fill", INK);
  writeRuns(xt, xLabels[i]);

  const yt = svg.append("text")
    .attr("transform", `translate(${yLabelX[i]},${yLabelMid[i]}) scale(1,${STRETCH}) rotate(-90) scale(${LABEL_WIDEN},1)`)
    .attr("text-anchor", "middle").attr("font-family", SERIF).attr("fill", INK);
  writeRuns(yt, yLabels[i]);
});
</script>
</body>
</html>
